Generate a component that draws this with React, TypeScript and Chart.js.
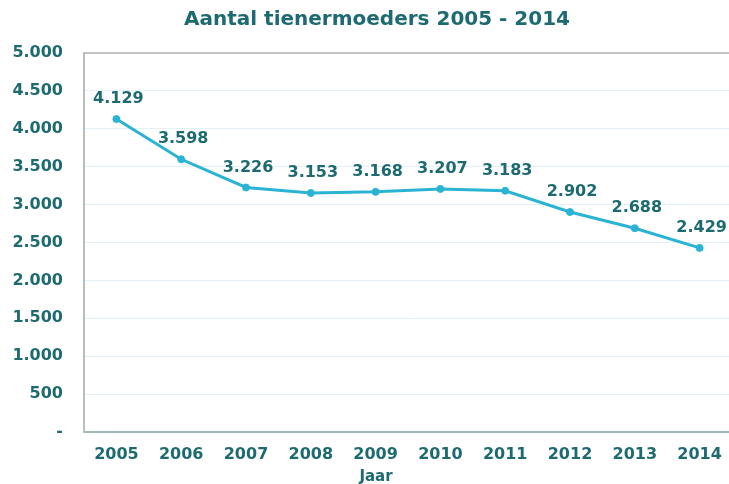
import React, { useEffect, useRef } from "react";
import { Chart, registerables } from "chart.js";

Chart.register(...registerables);

const TITLE = "Aantal tienermoeders 2005 - 2014";
const X_TITLE = "Jaar";
const years = ["2005", "2006", "2007", "2008", "2009", "2010", "2011", "2012", "2013", "2014"];
const teenMothers = [4129, 3598, 3226, 3153, 3168, 3207, 3183, 2902, 2688, 2429];

const TEXT = "#1d6b70";
const LINE = "#2bb3d4";
const FONT = "'DejaVu Sans', Verdana, sans-serif";

function fmt(v: number): string {
  if (v === 0) return "-";
  const s = Math.round(v).toString();
  return s.replace(/\B(?=(\d{3})+(?!\d))/g, ".");
}

const textPlugin = {
  id: "texts",
  afterDatasetsDraw(chart: any) {
    const ctx = chart.ctx;
    const meta = chart.getDatasetMeta(0);
    ctx.save();
    ctx.fillStyle = TEXT;
    ctx.font = `bold 16px ${FONT}`;
    ctx.textAlign = "center";
    ctx.textBaseline = "middle";
    meta.data.forEach((pt: any, i: number) => {
      ctx.fillText(fmt(teenMothers[i]), pt.x + 2, pt.y - 20);
    });
    ctx.restore();
  },
  afterDraw(chart: any) {
    const ctx = chart.ctx;
    ctx.save();
    ctx.fillStyle = TEXT;
    ctx.textAlign = "center";
    ctx.textBaseline = "middle";
    ctx.font = `bold 20px ${FONT}`;
    ctx.fillText(TITLE, 377, 20);
    ctx.font = `bold 15px ${FONT}`;
    ctx.fillText(X_TITLE, 376, 477);
    ctx.restore();
  },
};

export default function App() {
  const ref = useRef<HTMLCanvasElement>(null);
  useEffect(() => {
    document.body.style.margin = "0";
    document.body.style.overflow = "hidden";
    const canvas = ref.current!;
    const chart = new Chart(canvas, {
      type: "line",
      data: {
        labels: years,
        datasets: [
          {
            data: teenMothers,
            borderColor: LINE,
            backgroundColor: LINE,
            borderWidth: 3,
            pointRadius: 3.5,
            pointBorderWidth: 1,
            pointBackgroundColor: LINE,
            pointBorderColor: LINE,
            tension: 0,
          },
        ],
      },
      options: {
        animation: false,
        responsive: false,
        maintainAspectRatio: false,
        layout: { padding: { top: 53, right: 0, left: 0, bottom: 0 } },
        plugins: { legend: { display: false }, tooltip: { enabled: false }, title: { display: false } },
        scales: {
          x: {
            offset: true,
            grid: { display: false, drawTicks: false },
            border: { display: false },
            ticks: { color: TEXT, font: { family: FONT, size: 16, weight: "bold" }, padding: 13, maxRotation: 0 },
            afterFit: (s: any) => { s.height = 52; },
          },
          y: {
            min: 0,
            max: 5000,
            ticks: {
              stepSize: 500,
              color: TEXT,
              font: { family: FONT, size: 16, weight: "bold" },
              padding: 21,
              callback: (v: any) => fmt(Number(v)),
            },
            grid: {
              drawTicks: false,
              color: (c: any) => {
                const v = c.tick ? c.tick.value : -1;
                if (v === 5000) return "#c4c4c4";
                if (v === 0) return "#9fb8ba";
                return "#e2f1f7";
              },
              lineWidth: (c: any) => {
                const v = c.tick ? c.tick.value : -1;
                return v === 5000 || v === 0 ? 2 : 1;
              },
            },
            border: { display: true, color: "#bdbdbd", width: 2 },
            afterFit: (s: any) => { s.width = 84; },
          },
        },
      },
      plugins: [textPlugin],
    });
    return () => chart.destroy();
  }, []);
  return (
    <div style={{ position: "absolute", left: 0, top: 0, width: 729, height: 484, overflow: "hidden", background: "#fff" }}>
      <canvas ref={ref} width={737} height={484} style={{ display: "block" }} />
    </div>
  );
}
